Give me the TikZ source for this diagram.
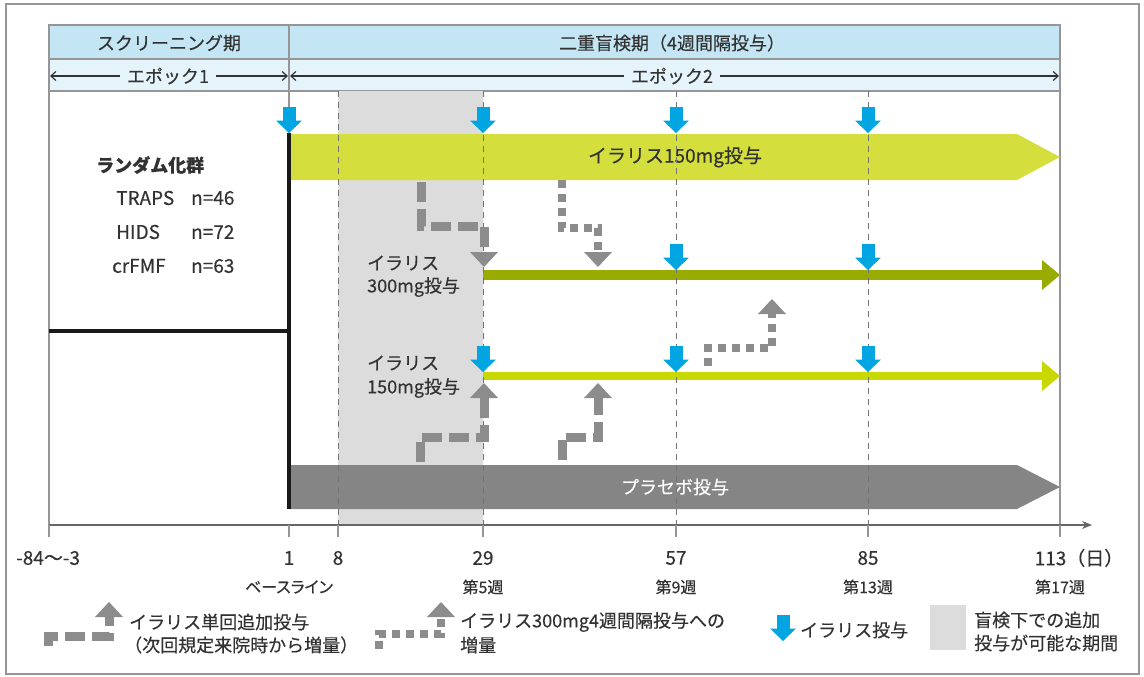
\documentclass[tikz,border=0pt]{standalone}
\usepackage{fontspec}
\setmainfont{Noto Sans CJK JP}[FakeBold=0.35]
\newfontfamily\palt[RawFeature=+palt,FakeBold=0.35]{Noto Sans CJK JP}
\definecolor{txt}{RGB}{50,50,50}
\definecolor{hdrA}{RGB}{196,229,243}
\definecolor{hdrB}{RGB}{229,243,250}
\definecolor{frm}{RGB}{150,150,150}
\definecolor{regionc}{RGB}{220,220,221}
\definecolor{gA}{RGB}{212,222,60}
\definecolor{gB}{RGB}{154,171,0}
\definecolor{gC}{RGB}{200,216,0}
\definecolor{placc}{RGB}{133,133,133}
\definecolor{dosec}{RGB}{0,165,225}
\definecolor{ggray}{RGB}{140,140,140}
\usetikzlibrary{arrows.meta}
\tikzset{
  lines/.style={draw=frm, line width=1.2pt},
  gridline/.style={draw=black!55, line width=1pt, dash pattern=on 6pt off 5pt},
  gdash/.style={draw=ggray, line width=9pt, dash pattern=on 20pt off 7pt},
  gdot/.style={draw=ggray, line width=8pt, dash pattern=on 8pt off 6pt},
  lbl/.style={inner sep=0pt, text=txt},
  big/.style={font=\fontsize{19}{22}\selectfont},
  small/.style={font=\fontsize{16}{18}\selectfont\palt},
  dosearrow/.pic={\fill[dosec] (-6.5,-26) rectangle (6.5,-11);
                  \fill[dosec] (-13,-12.5) -- (13,-12.5) -- (0,0) -- cycle;},
  headdown/.pic={\fill[ggray] (-14,-15) -- (14,-15) -- (0,0) -- cycle;},
  headup/.pic={\fill[ggray] (-14,15) -- (14,15) -- (0,0) -- cycle;}
}
\begin{document}
\begin{tikzpicture}[x=1pt,y=-1pt, font=\fontsize{18}{21}\selectfont]
\useasboundingbox (0,0) rectangle (1144,677);
\draw[frm, line width=1.5pt] (6,4) rectangle (1139,674);
% header
\fill[hdrA] (49,25) rectangle (1060,59);
\fill[hdrB] (49,59) rectangle (1060,91);
\draw[lines] (49,25) rectangle (1060,91);
\draw[lines] (49,59) -- (1060,59);
\draw[lines] (289,25) -- (289,107);
\node[lbl] (hscr) at (169,43) {スクリーニング期};
\node[lbl] (hdbl) at (672,43) {二重盲検期（4週間隔投与）};
\node[lbl, fill=hdrB, inner xsep=7pt] (ep1) at (168,76) {エポック1};
\node[lbl, fill=hdrB, inner xsep=7pt] (ep2) at (672,76) {エポック2};
\coordinate (e1l) at (50,76); \coordinate (e1r) at (288,76);
\coordinate (e2l) at (290,76); \coordinate (e2r) at (1059,76);
\draw[txt, line width=1.2pt, -{Straight Barb[length=5pt,width=9pt]}] (ep1.west) -- (e1l);
\draw[txt, line width=1.2pt, -{Straight Barb[length=5pt,width=9pt]}] (ep1.east) -- (e1r);
\draw[txt, line width=1.2pt, -{Straight Barb[length=5pt,width=9pt]}] (ep2.west) -- (e2l);
\draw[txt, line width=1.2pt, -{Straight Barb[length=5pt,width=9pt]}] (ep2.east) -- (e2r);
% frame of main area
\draw[lines] (49,91) -- (49,537);
\draw[lines] (1060,91) -- (1060,537);
% shaded period
\fill[regionc] (338,91) rectangle (483,525);
% bars
\fill[gA] (289,134) -- (1017,134) -- (1060,157) -- (1017,180) -- (289,180) -- cycle;
\fill[placc] (289,465) -- (1017,465) -- (1060,487) -- (1017,509) -- (289,509) -- cycle;
\fill[gB] (483,270) rectangle (1044,280);
\fill[gB] (1042,260) -- (1060,275) -- (1042,290) -- cycle;
\fill[gC] (483,372) rectangle (1044,380);
\fill[gC] (1042,361) -- (1060,376) -- (1042,391) -- cycle;
\node[lbl, big] (b150) at (675,157) {イラリス150mg投与};
\node[lbl, text=white] (bpl) at (675,487) {プラセボ投与};
% grid lines
\foreach \gx in {338,483,676,868} \draw[gridline] (\gx,91) -- (\gx,525);
% black lines
\draw[black!90, line width=4pt] (289,133) -- (289,509);
\draw[black!90, line width=4pt] (49,331) -- (291,331);
% axis
\draw[draw=black!60, line width=1.2pt, -{Stealth[length=10pt,width=8pt]}] (49,525) -- (1092,525);
\foreach \gx in {49,289,338,483,676,868,1060} \draw[lines] (\gx,525) -- (\gx,537);
% dose arrows
\foreach \px/\py in {289/133,483/133,676/133,868/133,676/270,868/270,483/372,676/372,868/372}
  \pic at (\px,\py) {dosearrow};
% gray step arrows
\draw[gdash] (421,182) -- (421,226) -- (484,226) -- (484,253);
\pic at (484,267) {headdown};
\draw[gdot] (562,180) -- (562,228) -- (598,228) -- (598,253);
\pic at (598,267) {headdown};
\draw[gdash] (420,462) -- (420,437) -- (484,437) -- (484,397);
\pic at (484,383) {headup};
\draw[gdash] (562,460) -- (562,437) -- (598,437) -- (598,397);
\pic at (598,383) {headup};
\draw[gdot] (708,366) -- (708,348) -- (772,348) -- (772,313);
\pic at (772,299) {headup};
% left texts
\node[lbl, anchor=west, font=\fontsize{18}{21}\selectfont\bfseries] (rand) at (96,165) {ランダム化群};
\node[lbl, anchor=west, big] (t1) at (116,198) {TRAPS};
\node[lbl, anchor=west, big] (n1) at (191,198) {n=46};
\node[lbl, anchor=west, big] (t2) at (116,232) {HIDS};
\node[lbl, anchor=west, big] (n2) at (191,232) {n=72};
\node[lbl, anchor=west, big] (t3) at (112,266) {crFMF};
\node[lbl, anchor=west, big] (n3) at (191,266) {n=63};
\node[lbl, anchor=west] (l3a) at (367,263) {イラリス};
\node[lbl, anchor=west] (l3b) at (367,287) {300mg投与};
\node[lbl, anchor=west] (l1a) at (367,363) {イラリス};
\node[lbl, anchor=west] (l1b) at (367,388) {150mg投与};
% axis labels
\node[lbl, anchor=west, big] (x0) at (16,558) {-84〜-3};
\node[lbl, big] (x1) at (289,558) {1};
\node[lbl, big] (x8) at (338,558) {8};
\node[lbl, big] (x29) at (483,558) {29};
\node[lbl, big] (x57) at (676,558) {57};
\node[lbl, big] (x85) at (868,558) {85};
\node[lbl, big] (x113) at (1079,558) {113（日）};
\node[lbl, small] (w0) at (289,587) {ベースライン};
\node[lbl, small] (w5) at (483,587) {第5週};
\node[lbl, small] (w9) at (676,587) {第9週};
\node[lbl, small] (w13) at (868,587) {第13週};
\node[lbl, small] (w17) at (1060,587) {第17週};
% legend
\draw[gdash] (48,646) -- (48,636) -- (109,636) -- (109,617);
\pic at (109,602) {headup};
\node[lbl, anchor=west] (lg1a) at (129,622) {イラリス単回追加投与};
\node[lbl, anchor=west] (lg1b) at (124,645) {（次回規定来院時から増量）};
\draw[gdot] (379,649) -- (379,634) -- (441,634) -- (441,617);
\pic at (441,602) {headup};
\node[lbl, anchor=west] (lg2a) at (460,622) {イラリス300mg4週間隔投与への};
\node[lbl, anchor=west] (lg2b) at (460,645) {増量};
\pic at (783,641) {dosearrow};
\node[lbl, anchor=west] (lg3) at (800,630) {イラリス投与};
\fill[regionc] (930,605) rectangle (966,650);
\node[lbl, anchor=west] (lg4a) at (974,620) {盲検下での追加};
\node[lbl, anchor=west] (lg4b) at (974,643) {投与が可能な期間};
\end{tikzpicture}
\end{document}
